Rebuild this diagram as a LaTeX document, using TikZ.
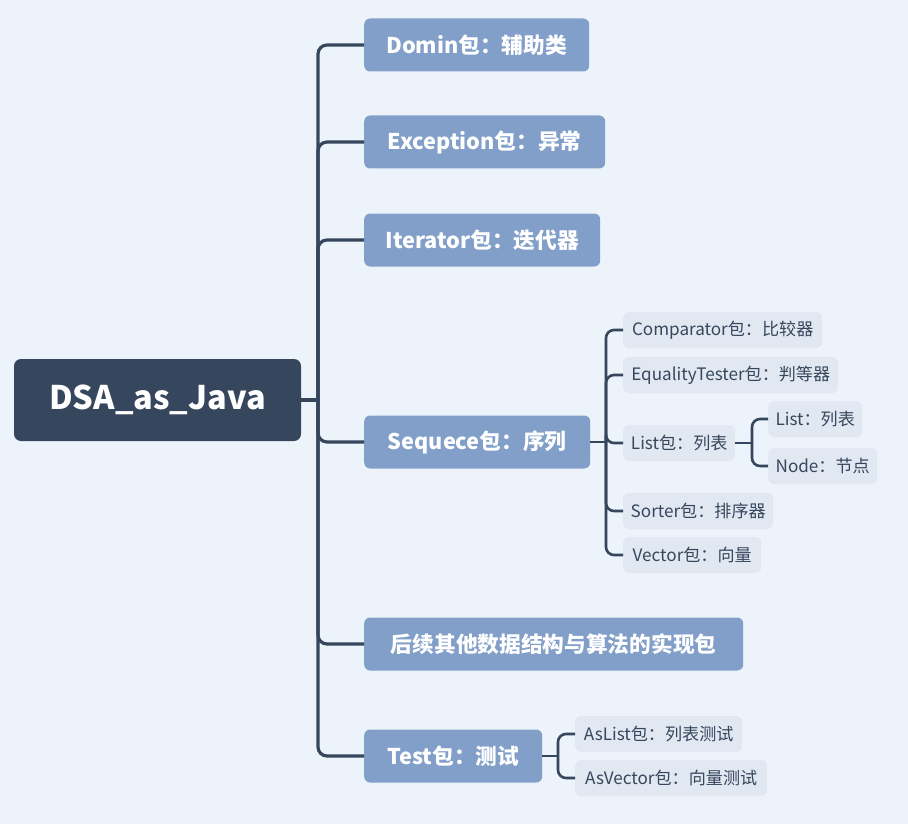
\documentclass[tikz,border=0pt]{standalone}
\usepackage{fontspec}
\setmainfont{Noto Sans CJK SC}
\definecolor{bgc}{HTML}{ECF3FA}
\definecolor{rootc}{HTML}{36465D}
\definecolor{lonec}{HTML}{819FC8}
\definecolor{ltwoc}{HTML}{E1E8F1}
\definecolor{linec}{HTML}{36465D}
\tikzset{
  rootbox/.style={fill=rootc, rounded corners=7pt, text=white, inner sep=0pt,
    font=\fontsize{32.5}{38}\selectfont\bfseries, minimum width=287pt, minimum height=82pt},
  onebox/.style={fill=lonec, rounded corners=6pt, text=white, inner sep=0pt, anchor=west,
    font=\fontsize{21.7}{26}\selectfont\bfseries, minimum height=53pt},
  twobox/.style={fill=ltwoc, rounded corners=6pt, text=rootc, inner sep=0pt, anchor=west,
    font=\fontsize{17.1}{20}\selectfont, minimum height=36pt},
  conn/.style={draw=linec, line width=3.2pt, rounded corners=9pt},
  subconn/.style={draw=linec, line width=2.6pt, rounded corners=8pt},
}
\begin{document}
\begin{tikzpicture}[x=1pt,y=-1pt]
\fill[bgc] (0,0) rectangle (908,824);
\useasboundingbox (0,0) rectangle (908,824);
\node[rootbox] (root) at (157.5,400) {DSA\_as\_Java};
\node[onebox, minimum width=225pt] (d1) at (364,45) {Domin包：辅助类};
\node[onebox, minimum width=241pt] (d2) at (364,142) {Exception包：异常};
\node[onebox, minimum width=236pt] (d3) at (364,240) {Iterator包：迭代器};
\node[onebox, minimum width=226pt] (d4) at (364,442) {Sequece包：序列};
\node[onebox, minimum width=379pt] (d5) at (364,644) {后续其他数据结构与算法的实现包};
\node[onebox, minimum width=178pt] (d6) at (364,756) {Test包：测试};
\node[twobox, minimum width=199pt] (s1) at (623,330) {Comparator包：比较器};
\node[twobox, minimum width=215pt] (s2) at (623,375) {EqualityTester包：判等器};
\node[twobox, minimum width=112pt] (s3) at (623,443) {List包：列表};
\node[twobox, minimum width=150pt] (s4) at (623,511) {Sorter包：排序器};
\node[twobox, minimum width=138pt] (s5) at (623,555) {Vector包：向量};
\node[twobox, minimum width=94pt] (l1) at (768,419) {List：列表};
\node[twobox, minimum width=109pt] (l2) at (768,466) {Node：节点};
\node[twobox, minimum width=167pt] (t1) at (575,734) {AsList包：列表测试};
\node[twobox, minimum width=192pt] (t2) at (575,778) {AsVector包：向量测试};
\coordinate (rj) at (318,400);
\coordinate (sj) at (606,442);
\coordinate (lj) at (752,443);
\coordinate (tj) at (558,756);
\draw[conn] (root.east) -- (rj);
\foreach \c in {d1,d2,d3,d4,d5,d6} \draw[conn] (rj) |- (\c.west);
\draw[subconn] (d4.east) -- (sj);
\foreach \c in {s1,s2,s3,s4,s5} \draw[subconn] (sj) |- (\c.west);
\draw[subconn] (s3.east) -- (lj);
\foreach \c in {l1,l2} \draw[subconn] (lj) |- (\c.west);
\draw[subconn] (d6.east) -- (tj);
\foreach \c in {t1,t2} \draw[subconn] (tj) |- (\c.west);
\end{tikzpicture}
\end{document}
